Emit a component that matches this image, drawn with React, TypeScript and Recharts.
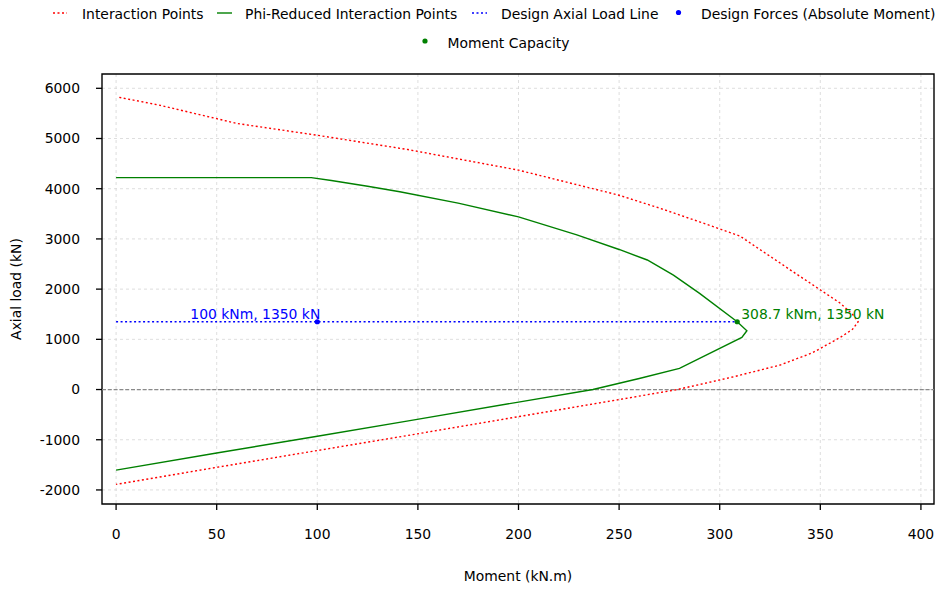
import {
  ComposedChart,
  Line,
  Scatter,
  XAxis,
  YAxis,
  CartesianGrid,
  ReferenceLine,
  ReferenceArea,
} from "recharts";

const FONT = "DejaVu Sans";
const FS = 13.9;

// full interaction diagram (kN.m / kN), walked top -> nose -> bottom
const interactionMoment = [1.6, 22, 50, 60, 100, 145, 200, 250, 270, 290, 310, 335, 360, 366, 368.8, 366, 360, 346, 330, 307, 279, 250, 200, 145, 100, 50, 0];
const interactionAxial = [5820, 5660, 5395, 5300, 5065, 4780, 4370, 3870, 3615, 3340, 3058, 2385, 1717, 1500, 1350, 1200, 1040, 730, 488, 255, 0, -200, -540, -915, -1215, -1550, -1890];

// phi-reduced diagram
const reducedMoment = [0, 97, 107, 125, 141, 170, 200, 229, 250, 264, 277, 290, 308.7, 313.5, 311, 280, 260, 237, 200, 146, 100, 50, 0];
const reducedAxial = [4220, 4220, 4165, 4050, 3940, 3712, 3440, 3080, 2790, 2580, 2280, 1915, 1350, 1170, 1040, 420, 220, 0, -250, -620, -930, -1265, -1605];

const loadLineMoment = [0, 308.7];
const loadLineAxial = [1350, 1350];

const designMoment = [100];
const designAxial = [1350];
const capacityMoment = [308.7];
const capacityAxial = [1350];

const xTicks = [0, 50, 100, 150, 200, 250, 300, 350, 400];
const yTicks = [-2000, -1000, 0, 1000, 2000, 3000, 4000, 5000, 6000];
const xDomain = [-7, 406.5];
const yDomain = [-2280, 6285];

const toPoints = (ms: number[], ps: number[]) => ms.map((m, i) => ({ m, p: ps[i] }));

const interaction = toPoints(interactionMoment, interactionAxial);
const reduced = toPoints(reducedMoment, reducedAxial);
const loadLine = toPoints(loadLineMoment, loadLineAxial);
const design = toPoints(designMoment, designAxial);
const capacity = toPoints(capacityMoment, capacityAxial);

const pointShape = (color: string, anchor: "start" | "end", dx: number) => (props: any) => {
  const { cx, cy, payload } = props;
  return (
    <g>
      <circle cx={cx} cy={cy} r={2.6} fill={color} />
      <text x={cx + dx} y={cy - 2.5} textAnchor={anchor} fill={color} fontSize={FS} fontFamily={FONT}>
        {`${payload.m} kNm, ${payload.p} kN`}
      </text>
    </g>
  );
};

const tickStyle = { fill: "#000", fontSize: FS, fontFamily: FONT };

function Legend() {
  const t = { fontSize: FS, fontFamily: FONT, fill: "#000" };
  return (
    <svg width={936} height={60} style={{ position: "absolute", left: 0, top: 0 }}>
      <line x1={53} x2={67} y1={13} y2={13} stroke="red" strokeWidth={1.4} strokeDasharray="2 2.5" />
      <text x={82} y={19} {...t}>Interaction Points</text>
      <line x1={217} x2={232} y1={13} y2={13} stroke="green" strokeWidth={1.4} />
      <text x={245} y={19} {...t}>Phi-Reduced Interaction Points</text>
      <line x1={472} x2={487} y1={13} y2={13} stroke="blue" strokeWidth={1.4} strokeDasharray="2 2.5" />
      <text x={501} y={19} {...t}>Design Axial Load Line</text>
      <circle cx={678.5} cy={12.5} r={2.6} fill="blue" />
      <text x={701} y={19} {...t}>Design Forces (Absolute Moment)</text>
      <circle cx={425} cy={41} r={2.6} fill="green" />
      <text x={447.5} y={47.5} {...t}>Moment Capacity</text>
    </svg>
  );
}

export default function App() {
  return (
    <div style={{ position: "absolute", left: 0, top: 0, width: 936, height: 589, background: "#fff", fontFamily: FONT }}>
      <Legend />
      <ComposedChart width={936} height={589} margin={{ top: 74, right: 2, bottom: 0, left: 0 }}>
        <CartesianGrid
          stroke="#d6d6d6"
          strokeWidth={0.8}
          strokeDasharray="3 3"
          horizontalValues={yTicks}
          verticalValues={xTicks}
        />
        <XAxis
          type="number"
          dataKey="m"
          domain={xDomain}
          allowDataOverflow
          ticks={xTicks}
          interval={0}
          height={85}
          axisLine={false}
          tickLine={{ stroke: "#000", strokeWidth: 1.3 }}
          tickSize={6}
          tickMargin={19}
          tick={tickStyle}
          label={{ value: "Moment (kN.m)", position: "insideBottom", offset: 8, fill: "#000", fontSize: FS, fontFamily: FONT }}
        />
        <YAxis
          type="number"
          dataKey="p"
          domain={yDomain}
          allowDataOverflow
          ticks={yTicks}
          interval={0}
          width={102}
          axisLine={false}
          tickLine={{ stroke: "#000", strokeWidth: 1.3 }}
          tickSize={6}
          tickMargin={16}
          tick={tickStyle}
          label={{
            content: (props: any) => {
              const vb = props.viewBox || { x: 0, y: 74, width: 102, height: 430 };
              const cx = 16;
              const cy = vb.y + vb.height / 2;
              return (
                <text
                  x={cx}
                  y={cy}
                  dy="0.36em"
                  textAnchor="middle"
                  transform={`rotate(-90, ${cx}, ${cy})`}
                  fill="#000"
                  fontSize={FS}
                  fontFamily={FONT}
                >
                  Axial load (kN)
                </text>
              );
            },
          }}
        />
        <ReferenceLine y={0} stroke="#8a8a8a" strokeWidth={1.2} strokeDasharray="4 1.8" />
        <Line
          data={interaction}
          dataKey="p"
          type="linear"
          stroke="red"
          strokeWidth={1.4}
          strokeDasharray="2 2.5"
          dot={false}
          activeDot={false}
          isAnimationActive={false}
        />
        <Line
          data={reduced}
          dataKey="p"
          type="linear"
          stroke="green"
          strokeWidth={1.4}
          dot={false}
          activeDot={false}
          isAnimationActive={false}
        />
        <Line
          data={loadLine}
          dataKey="p"
          type="linear"
          stroke="blue"
          strokeWidth={1.4}
          strokeDasharray="2 2.5"
          dot={false}
          activeDot={false}
          isAnimationActive={false}
        />
        <Scatter data={design} dataKey="p" shape={pointShape("blue", "end", 3)} isAnimationActive={false} />
        <Scatter data={capacity} dataKey="p" shape={pointShape("green", "start", 4)} isAnimationActive={false} />
        <ReferenceArea
          x1={xDomain[0]}
          x2={xDomain[1]}
          y1={yDomain[0]}
          y2={yDomain[1]}
          fill="none"
          stroke="#000"
          strokeWidth={1.4}
          ifOverflow="visible"
        />
      </ComposedChart>
    </div>
  );
}
